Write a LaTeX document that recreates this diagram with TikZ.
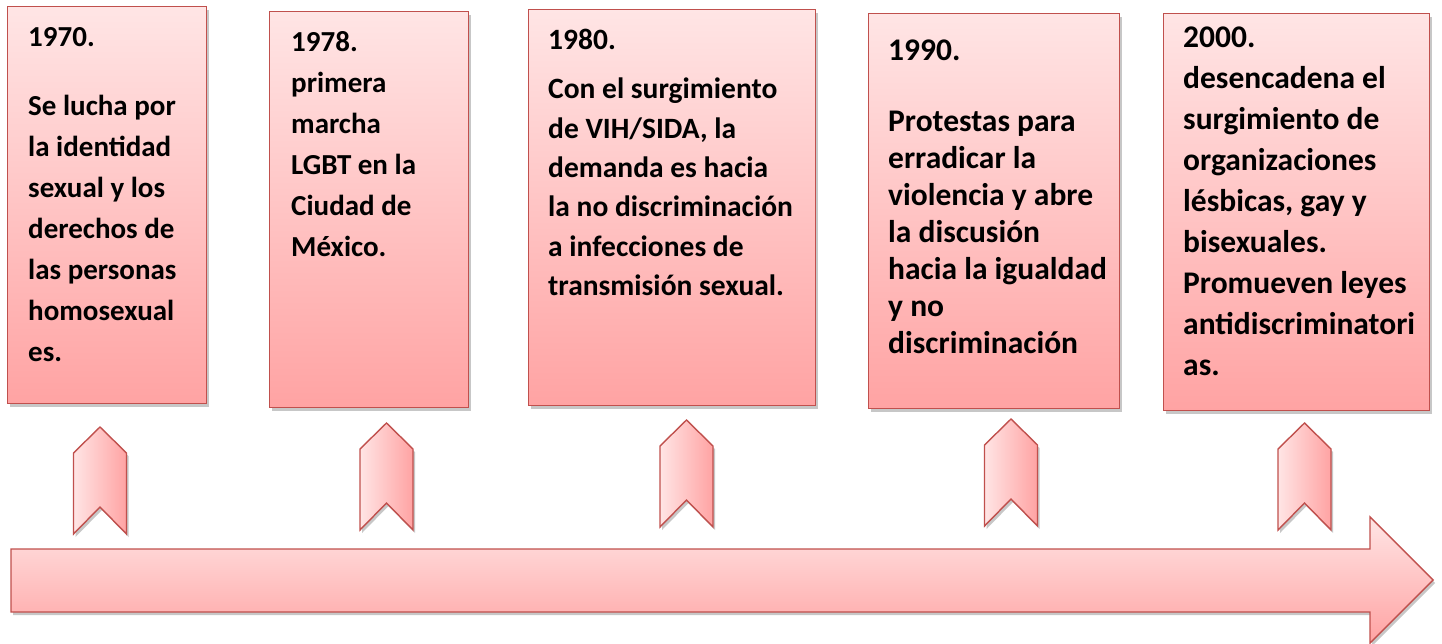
\documentclass[tikz,border=0pt]{standalone}
\usepackage{fontspec}
\setmainfont{Carlito}
\usetikzlibrary{shadows}

\definecolor{boxline}{RGB}{192,80,77}
\definecolor{pinklight}{RGB}{255,229,229}
\definecolor{pinkdark}{RGB}{255,163,163}

\begin{document}
\begin{tikzpicture}[x=1pt, y=-1pt,
        softshadow/.style={drop shadow={shadow xshift=2pt, shadow yshift=-3pt, fill=black, opacity=.22}},
        yearbox/.style={draw=boxline, line width=1.4pt, top color=pinklight, bottom color=pinkdark,
            anchor=north west, inner sep=0pt, softshadow},
        yeartext/.style={anchor=north west, inner sep=0pt, text width=#1, align=flush left,
            font=\fontsize{29}{41}\selectfont\bfseries},
        chevron/.style={draw=boxline, line width=1.4pt, left color=pinklight, right color=pinkdark, softshadow},
        timeline/.style={draw=boxline, line width=1.4pt, top color=pinklight, bottom color=pinkdark, softshadow}]

        \useasboundingbox (0,0) rectangle (1442,643);

        % the long arrow
        \draw[timeline] (11,549) -- (1370,549) -- (1370,517) -- (1433,580)
            -- (1370,643) -- (1370,612) -- (11,612) -- cycle;

        % small chevrons under the boxes
        \foreach \cx/\ty in {100/427, 386.5/423, 686.5/420, 1011/419, 1304.5/423}
            \draw[chevron] (\cx,\ty) -- ++(26.5,26) -- ++(0,81) -- ++(-26.5,-27)
                -- ++(-26.5,27) -- ++(0,-81) -- cycle;

        % boxes
        \node[yearbox, minimum width=199pt, minimum height=397pt] (b1) at (7,6) {};
        \node[yearbox, minimum width=199pt, minimum height=396pt] (b2) at (269,11) {};
        \node[yearbox, minimum width=287pt, minimum height=396pt] (b3) at (528,9) {};
        \node[yearbox, minimum width=251pt, minimum height=395pt] (b4) at (868,13) {};
        \node[yearbox, minimum width=266pt, minimum height=397pt] (b5) at (1163,13) {};

        % texts
        \node[yeartext=175pt] (t1) at ([shift={(21,21)}]b1.north west)
            {1970.\\[28pt] Se lucha por\\ la identidad\\ sexual y los\\ derechos de\\ las personas\\ homosexual\\ es.};
        \node[yeartext=175pt] (t2) at ([shift={(22,20)}]b2.north west)
            {1978.\\ primera\\ marcha\\ LGBT en la\\ Ciudad de\\ México.};
        \node[yeartext=260pt, font=\fontsize{29.5}{39.3}\selectfont\bfseries] (t3) at ([shift={(20,20)}]b3.north west)
            {1980.\\[10pt] Con el surgimiento\\ de VIH/SIDA, la\\ demanda es hacia\\ la no discriminación\\ a infecciones de\\ transmisión sexual.};
        \node[yeartext=225pt, font=\fontsize{31.5}{36.9}\selectfont\bfseries] (t4) at ([shift={(20,27)}]b4.north west)
            {1990.\\[34pt] Protestas para\\ erradicar la\\ violencia y abre\\ la discusión\\ hacia la igualdad\\ y no\\ discriminación};
        \node[yeartext=245pt, font=\fontsize{31.5}{41}\selectfont\bfseries] (t5) at ([shift={(20,14)}]b5.north west)
            {2000.\\ desencadena el\\ surgimiento de\\ organizaciones\\ lésbicas, gay y\\ bisexuales.\\ Promueven leyes\\ antidiscriminatori\\ as.};
\end{tikzpicture}
\end{document}
